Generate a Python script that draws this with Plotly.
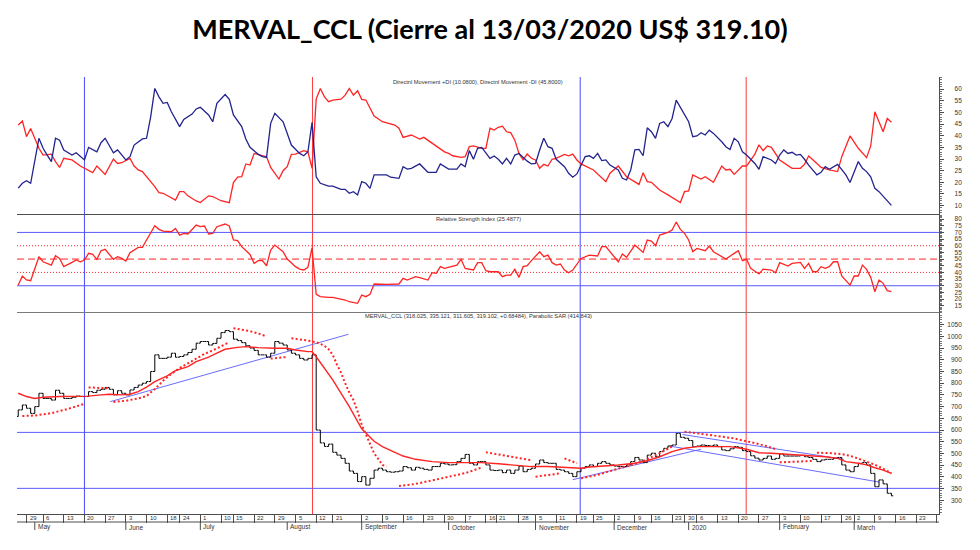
import plotly.graph_objects as go

TITLE = "MERVAL_CCL (Cierre al 13/03/2020 US$ 319.10)"
DI_LABEL = "Directnl Movement +DI (10.0800), Directnl Movement -DI (45.8000)"
RSI_LABEL = "Relative Strength Index (25.4877)"
PRICE_LABEL = "MERVAL_CCL (318.025, 335.121, 311.605, 319.102, +0.68484), Parabolic SAR (414.843)"

# daily closes, trading-day index 0..211 (25-Apr-2019 .. 13-Mar-2020)
FIRST_OPEN = 658
CLOSE = [
    686, 707, 693, 671, 700, 757, 735, 735, 728, 770,
    757, 735, 735, 740, 745, 743, 743, 764, 760, 770,
    774, 782, 774, 750, 768, 757, 750, 771, 782, 792,
    800, 807, 850, 921, 906, 906, 911, 928, 911, 914,
    921, 931, 945, 971, 978, 978, 963, 970, 992, 1016,
    1025, 1020, 988, 982, 973, 960, 950, 940, 921, 921,
    911, 928, 978, 971, 963, 942, 928, 921, 906, 899,
    906, 921, 600, 545, 530, 540, 505, 493, 479, 458,
    425, 415, 380, 401, 365, 394, 429, 437, 429, 422,
    420, 422, 425, 444, 439, 429, 441, 437, 432, 429,
    444, 444, 458, 455, 451, 452, 465, 479, 496, 458,
    451, 465, 465, 451, 429, 427, 429, 418, 429, 415,
    429, 446, 422, 432, 437, 455, 472, 461, 458, 458,
    432, 429, 422, 415, 401, 422, 437, 444, 451, 444,
    458, 465, 458, 451, 446, 444, 444, 451, 465, 483,
    472, 461, 493, 501, 486, 508, 522, 532, 536, 586,
    569, 565, 555, 529, 532, 536, 534, 532, 536, 529,
    515, 512, 520, 529, 526, 512, 508, 490, 480, 472,
    479, 489, 475, 479, 498, 489, 489, 489, 489, 492,
    486, 483, 475, 465, 472, 475, 475, 480, 483, 451,
    429, 422, 444, 458, 461, 451, 415, 358, 387, 370,
    330, 319.1,
]

PLUS_DI = [(0,17.5),(1,19.6),(2,20.7),(3,19.6),(5,38.9),(6,34.6),(7,31.7),(8,28.9),(9,38.9),(10,38.1),
    (11,33.9),(13,31.7),(14,32.7),(16,29.6),(17,35.0),(19,33.1),(20,37.0),(21,38.9),(23,32.7),(24,33.9),
    (26,29.6),(27,31.0),(28,36.0),(30,38.6),(31,38.9),(32,48.1),(33,60.3),(34,56.7),(35,53.9),(36,54.3),
    (37,50.3),(39,43.9),(40,47.0),(42,49.3),(43,51.5),(44,52.2),(46,48.9),(47,46.0),(48,53.9),(50,57.7),
    (51,55.6),(52,48.9),(54,43.9),(55,38.6),(56,35.0),(58,32.0),(59,31.0),(60,30.7),(61,45.3),(62,49.6),
    (64,46.0),(65,41.0),(66,36.0),(68,32.4),(69,31.4),(70,33.1),(71,45.7),(72,22.4),(73,19.6),(75,18.4),
    (76,18.4),(78,17.0),(79,17.0),(80,15.3),(81,16.0),(82,14.6),(83,20.3),(84,19.6),(85,17.4),(86,23.2),
    (89,23.2),(90,22.2),(92,21.7),(93,26.7),(94,25.7),(95,26.0),(97,27.9),(99,24.3),(101,24.3),(102,27.9),
    (104,25.7),(106,25.7),(107,27.9),(108,26.7),(109,33.6),(110,29.9),(111,34.6),(112,35.0),(114,30.3),(115,31.3),
    (116,29.9),(117,27.9),(118,30.3),(119,27.9),(120,31.7),(121,32.4),(123,29.1),(124,27.9),(125,28.1),(126,33.9),
    (127,38.9),(128,35.3),(129,34.6),(130,29.9),(132,26.7),(133,23.9),(134,22.2),(135,23.6),(136,27.4),(137,31.0),
    (138,31.4),(139,30.3),(140,32.4),(141,29.3),(142,29.6),(143,27.4),(145,25.3),(146,21.7),(147,21.0),(148,25.3),
    (149,33.9),(150,34.1),(151,31.4),(152,43.4),(153,41.7),(154,38.9),(155,45.3),(156,46.0),(157,43.9),(158,47.4),
    (159,55.3),(160,52.4),(162,46.0),(163,39.6),(164,39.9),(165,41.3),(166,40.3),(167,42.4),(168,41.0),(170,37.4),
    (171,35.3),(172,34.1),(173,38.9),(174,37.4),(175,33.1),(176,31.7),(178,28.1),(179,25.6),(180,31.0),(182,29.6),
    (183,28.1),(184,31.7),(185,33.9),(186,32.4),(187,32.9),(188,31.7),(189,32.0),(190,29.9),(191,27.4),(193,23.2),
    (194,24.3),(195,26.7),(196,25.6),(198,27.7),(200,23.2),(201,19.9),(203,28.9),(204,26.0),(205,24.6),(206,22.4),
    (207,17.4),(208,16.0),(209,13.9),(210,12.0),(211,10.1)]

MINUS_DI = [(0,44.6),(1,46.3),(2,39.6),(3,43.1),(5,34.6),(6,31.7),(8,32.1),(9,28.9),(10,26.4),(11,30.3),
    (13,29.6),(15,27.0),(18,24.2),(19,27.0),(21,23.4),(23,30.0),(24,28.1),(25,28.4),(27,30.3),(28,27.0),
    (29,25.3),(30,24.6),(33,18.2),(34,15.6),(35,15.3),(38,12.4),(39,16.0),(40,16.0),(41,14.2),(43,12.0),
    (44,11.3),(46,14.2),(47,13.9),(49,12.1),(51,11.3),(52,19.9),(53,22.2),(54,22.4),(55,27.9),(56,27.4),
    (57,32.4),(58,32.0),(60,31.0),(61,26.4),(62,23.9),(63,21.4),(64,25.0),(65,26.7),(66,32.0),(67,32.1),
    (69,33.6),(70,33.1),(71,26.0),(72,55.7),(73,60.3),(74,56.7),(75,54.6),(76,55.3),(78,55.7),(79,57.4),
    (80,60.3),(81,57.4),(82,59.3),(83,55.6),(84,55.3),(86,48.4),(88,46.0),(91,44.6),(92,43.2),(93,39.3),
    (95,40.3),(97,38.6),(98,39.3),(100,36.7),(103,33.1),(104,32.4),(105,31.4),(107,30.7),(108,31.0),(109,35.3),
    (110,35.6),(112,34.6),(113,34.6),(114,43.2),(115,42.4),(116,43.6),(117,44.1),(118,41.7),(119,41.3),(120,38.1),
    (121,32.4),(122,29.6),(123,32.1),(124,30.3),(125,29.6),(126,26.0),(127,27.7),(128,27.0),(129,29.9),(130,30.3),
    (132,32.0),(133,31.4),(134,32.1),(135,29.6),(136,27.9),(139,25.3),(142,20.3),(143,23.9),(145,27.0),(147,22.4),
    (150,19.1),(151,24.1),(152,20.3),(153,20.0),(155,16.7),(157,14.6),(160,11.3),(161,16.0),(162,16.3),(163,23.2),
    (165,21.4),(166,22.4),(168,20.0),(170,27.0),(171,25.3),(172,25.6),(173,23.4),(175,27.0),(176,27.0),(178,32.1),
    (179,36.1),(180,33.6),(181,35.6),(182,35.0),(184,29.6),(187,26.0),(189,26.0),(190,27.7),(191,31.3),(193,28.1),
    (194,26.4),(196,25.3),(198,24.6),(199,31.0),(201,39.9),(203,34.6),(205,30.6),(206,35.6),(207,50.3),(208,46.0),
    (209,41.7),(210,47.4),(211,45.8)]

RSI = [(0,30.5),(1,37.3),(2,34.3),(3,33.8),(5,51.8),(6,48.0),(8,45.5),(9,52.5),(10,50.5),(11,44.3),
    (13,47.5),(14,49.3),(15,48.0),(16,49.3),(17,54.3),(18,53.5),(19,49.8),(20,56.3),(21,57.3),(23,49.8),
    (24,51.8),(25,50.5),(26,48.5),(27,54.8),(29,58.8),(30,58.8),(31,64.3),(33,75.0),(34,72.3),(35,71.0),
    (37,70.5),(38,73.0),(39,68.0),(40,69.3),(41,68.8),(43,75.5),(44,74.3),(45,74.8),(46,68.8),(47,69.3),
    (48,74.3),(50,76.3),(51,74.8),(52,64.3),(53,63.8),(54,59.3),(56,53.5),(57,46.8),(58,48.8),(59,48.8),
    (60,45.0),(61,56.8),(62,60.5),(64,55.5),(65,50.0),(67,44.3),(68,42.5),(69,41.8),(70,43.8),(71,58.5),
    (72,23.5),(73,21.8),(75,21.3),(76,21.3),(79,19.3),(80,18.0),(82,16.8),(83,23.0),(84,21.8),(85,23.5),
    (86,31.3),(87,31.1),(89,31.1),(92,31.3),(93,35.5),(94,34.3),(96,36.8),(97,36.0),(99,34.3),(100,39.8),
    (101,39.3),(102,44.3),(103,43.0),(106,45.5),(107,49.8),(108,43.0),(110,41.8),(111,47.3),(112,47.3),(113,41.3),
    (114,40.5),(116,40.5),(117,36.8),(118,38.0),(119,38.0),(120,42.3),(121,36.3),(122,44.3),(123,45.0),(124,48.8),
    (126,55.5),(127,51.8),(128,53.0),(129,47.3),(130,45.5),(131,46.3),(132,41.8),(133,39.8),(134,41.8),(136,50.5),
    (137,51.8),(138,53.0),(140,52.3),(141,59.3),(142,59.3),(143,55.5),(145,48.0),(146,53.8),(147,51.3),(149,60.5),
    (150,58.0),(151,55.0),(152,64.3),(153,63.5),(154,60.0),(155,68.0),(157,70.0),(158,71.8),(159,77.8),(160,72.3),
    (161,69.3),(162,64.3),(163,55.5),(164,58.0),(166,56.3),(167,59.8),(168,55.5),(170,51.8),(171,50.0),(173,54.3),
    (174,56.3),(175,48.8),(176,49.8),(177,43.0),(179,38.8),(180,42.5),(182,41.8),(183,39.8),(184,47.3),(186,44.8),
    (187,46.8),(189,47.5),(190,43.0),(191,46.8),(192,40.5),(193,40.5),(194,44.3),(195,43.0),(196,44.3),(197,48.0),
    (198,48.0),(199,37.3),(201,30.5),(202,37.3),(203,37.3),(204,45.5),(205,42.3),(206,36.3),(207,25.5),(208,34.3),
    (209,31.8),(210,26.3),(211,25.5)]

SMA = [(0,757),(2,743),(4,735),(6,740),(10,743),(14,743),(17,745),(20,750),(22,753),(25,750),(27,753),
    (29,764),(31,783),(33,807),(36,831),(38,854),(41,871),(43,892),(46,911),(48,928),(50,945),(53,953),
    (55,956),(58,952),(60,949),(62,949),(65,949),(67,942),(70,935),(71,935),(72,913),(76,814),(80,700),
    (83,605),(86,552),(88,529),(91,505),(93,489),(96,475),(100,465),(104,461),(108,461),(112,461),(116,456),
    (120,451),(124,444),(128,444),(132,441),(136,437),(138,442),(142,446),(145,451),(149,458),(152,469),
    (155,486),(158,508),(161,522),(164,529),(168,529),(172,529),(176,518),(179,503),(182,501),(186,496),
    (189,493),(192,489),(195,486),(198,479),(200,465),(203,458),(205,451),(207,439),(209,429),(211,415)]

SAR_SEGMENTS = [
    [(1,660),(4,662),(8,672),(12,690),(16,712)],
    [(17,782),(20,780),(22,778)],
    [(23,720),(26,725),(29,735),(31,745),(33,775),(35,810),(37,840),(39,865),(41,885),(43,905),(45,925),(47,940),(49,958),(51,975)],
    [(52,1035),(54,1030),(56,1022),(58,1012),(60,1000)],
    [(61,905),(63,908),(65,912)],
    [(66,992),(68,988),(70,982),(72,975),(74,960),(75,945),(76,921),(77,880),(78,845),(79,800),(80,760),(81,728),
     (82,680),(83,622),(84,580),(85,536),(86,501),(88,451),(89,444)],
    [(92,361),(96,370),(100,385),(104,400),(108,416),(112,440)],
    [(113,505),(115,499),(117,492),(119,486),(121,480),(123,474),(124,471)],
    [(125,401),(127,404),(129,410),(131,415)],
    [(132,479),(134,463),(135,458)],
    [(136,394),(138,400),(140,408),(143,425),(146,440),(149,455),(152,475),(155,500),(157,520),(158,530)],
    [(161,593),(164,587),(167,580),(170,572),(173,564),(176,553),(179,540),(182,525),(183,518)],
    [(184,462),(187,464),(190,466),(192,468)],
    [(193,503),(196,502),(199,497),(201,490),(203,478),(205,466),(207,452),(209,435),(211,415)],
]

TRENDLINES = [(22.2, 721, 79.8, 1009), (134, 388, 165, 518), (160.5, 581, 199.5, 475), (157.3, 532, 208, 378)]
PRICE_LEVELS = [590, 351]
EVENT_LINES = [(16, "#4b4bff"), (71.1, "#ff3b3b"), (135.8, "#4b4bff"), (175.9, "#ff3b3b")]

DAY_TICKS = [2, 6, 11, 16, 21, 26, 31, 36, 39, 44, 49, 52, 57, 62, 67, 72, 76, 83, 88, 93, 98, 103, 108, 113,
             115.5, 121, 125, 130, 135, 139, 144, 149, 153, 158, 161, 164, 169, 174, 179, 184, 189, 194, 199,
             202, 207, 212, 217, 222]
DAY_LABELS = ["29", "6", "13", "20", "27", "3", "10", "18", "24", "1", "10", "15", "22", "29", "5", "12", "21",
              "2", "9", "16", "23", "30", "7", "16", "21", "28", "5", "11", "19", "25", "2", "9", "16", "23",
              "30", "6", "13", "20", "27", "3", "10", "17", "26", "2", "9", "16", "23", ""]
MONTH_TICKS = [4, 26, 44, 65, 83, 104, 125, 144, 162, 184, 202]
MONTH_LABELS = ["May", "June", "July", "August", "September", "October", "November", "December", "2020",
                "February", "March"]

DI_TICKS = list(range(10, 61, 5))
RSI_TICKS = list(range(15, 81, 5))
PRICE_TICKS = list(range(300, 1051, 50))

# ---------------------------------------------------------------
XR = [-0.3, 222.5]
D_PRICE = [0.01798, 0.4719]
D_RSI = [0.4719, 0.6921]
D_DI = [0.6921, 1.0]
AX = "#4d4d4d"
TXT = "#333333"
RED = "#ff2424"

IDX = list(range(len(CLOSE)))
OPEN = [FIRST_OPEN] + CLOSE[:-1]
HIGH = [max(o, c) for o, c in zip(OPEN, CLOSE)]
LOW = [min(o, c) for o, c in zip(OPEN, CLOSE)]

def split(pairs):
    return [p[0] for p in pairs], [p[1] for p in pairs]

sar_x, sar_y = [], []
for seg in SAR_SEGMENTS:
    sx, sy = split(seg)
    sar_x += sx + [None]
    sar_y += sy + [None]

fig = go.Figure()
px_, py_ = split(PLUS_DI)
mx_, my_ = split(MINUS_DI)
rx_, ry_ = split(RSI)
ax_, ay_ = split(SMA)

fig.add_trace(go.Scatter(x=mx_, y=my_, mode="lines", line=dict(color=RED, width=1.3), xaxis="x", yaxis="y"))
fig.add_trace(go.Scatter(x=px_, y=py_, mode="lines", line=dict(color="#23238f", width=1.3), xaxis="x", yaxis="y"))
fig.add_trace(go.Scatter(x=rx_, y=ry_, mode="lines", line=dict(color=RED, width=1.3), xaxis="x2", yaxis="y2"))
fig.add_trace(go.Ohlc(x=IDX, open=OPEN, high=HIGH, low=LOW, close=CLOSE, xaxis="x3", yaxis="y3",
                      tickwidth=0.45, hoverinfo="skip",
                      increasing=dict(line=dict(color="black", width=1)),
                      decreasing=dict(line=dict(color="black", width=1))))
fig.add_trace(go.Scatter(x=ax_, y=ay_, mode="lines", line=dict(color=RED, width=1.4), xaxis="x3", yaxis="y3"))
fig.add_trace(go.Scatter(x=sar_x, y=sar_y, mode="lines", connectgaps=False,
                         line=dict(color=RED, width=2, dash="2px,2.3px"), xaxis="x3", yaxis="y3"))

shapes = []
for xv, col in EVENT_LINES:
    shapes.append(dict(type="line", xref="x3", yref="paper", x0=xv, x1=xv, y0=D_PRICE[0], y1=1,
                       line=dict(color=col, width=1), layer="below"))
for lv in PRICE_LEVELS:
    shapes.append(dict(type="line", xref="paper", yref="y3", x0=0, x1=1, y0=lv, y1=lv,
                       line=dict(color="#5a5aff", width=1), layer="below"))
for x0, y0, x1, y1 in TRENDLINES:
    shapes.append(dict(type="line", xref="x3", yref="y3", x0=x0, y0=y0, x1=x1, y1=y1,
                       line=dict(color="#6b6bff", width=1), layer="below"))
for lv, col, dash in [(70, "#5a5aff", "solid"), (30, "#5a5aff", "solid"), (60, RED, "1px,2px"),
                      (40, RED, "1px,2px"), (50, RED, "7px,4px")]:
    shapes.append(dict(type="line", xref="paper", yref="y2", x0=0, x1=1, y0=lv, y1=lv,
                       line=dict(color=col, width=1, dash=dash), layer="below"))
# bottom of the day-label strip and month separators
shapes.append(dict(type="line", xref="paper", yref="paper", x0=0, x1=1, y0=0, y1=0, line=dict(color=AX, width=1)))
for mt in MONTH_TICKS:
    shapes.append(dict(type="line", xref="x3", yref="paper", x0=mt, x1=mt, y0=-0.018, y1=0,
                       line=dict(color=AX, width=1)))

ann = []
for t, lab in zip(DAY_TICKS, DAY_LABELS):
    ann.append(dict(x=t, xref="x3", y=0.0085, yref="paper", text=lab, showarrow=False, xanchor="left",
                    yanchor="middle", xshift=1, font=dict(size=6, color=TXT, family="Liberation Sans")))
for t, lab in zip(MONTH_TICKS, MONTH_LABELS):
    ann.append(dict(x=t, xref="x3", y=-0.0115, yref="paper", text=lab, showarrow=False, xanchor="left",
                    yanchor="middle", xshift=1, font=dict(size=6.5, color=TXT, family="Liberation Sans")))
for txt, yy in [(DI_LABEL, 0.9888), (RSI_LABEL, 0.681), (PRICE_LABEL, 0.4629)]:
    ann.append(dict(x=0.5, xref="paper", y=yy, yref="paper", text=txt, showarrow=False, xanchor="center",
                    yanchor="middle", font=dict(size=5.7, color=TXT, family="Liberation Sans")))

def yax(dom, rng, ticks, anchor, minor_dt):
    return dict(domain=dom, range=rng, anchor=anchor, side="right", tickvals=ticks,
                ticktext=[f"{v:>4}".replace(" ", "\u2007") for v in ticks],
                ticks="outside", ticklen=4, tickcolor=AX, tickfont=dict(size=6.5, color=TXT, family="Liberation Sans"),
                showline=True, linecolor=AX, linewidth=1, showgrid=False, zeroline=False, ticklabelstandoff=2,
                minor=dict(ticks="outside", ticklen=2, dtick=minor_dt, tickcolor="#777777"), fixedrange=True)

def xax(anchor, color, **kw):
    d = dict(domain=[0, 1], range=XR, anchor=anchor, showline=True, linecolor=color, linewidth=1,
             showgrid=False, zeroline=False, showticklabels=False, ticks="")
    d.update(kw)
    return d

fig.update_layout(
    width=980, height=550, autosize=False,
    margin=dict(l=17, r=41, t=77, b=28),
    paper_bgcolor="white", plot_bgcolor="white", showlegend=False,
    title=dict(text=f"<b>{TITLE}</b>", x=0.5, xref="container", xanchor="center", y=1 - 30 / 550,
               yref="container", yanchor="middle", font=dict(family="Lato", size=27, color="black")),
    xaxis=xax("y", AX),
    xaxis2=xax("y2", "#7a7a7a"),
    xaxis3=xax("y3", AX, ticks="outside", ticklen=8, tickcolor=AX, tickvals=DAY_TICKS,
               rangeslider=dict(visible=False)),
    yaxis=yax(D_DI, [6.4, 65.2], DI_TICKS, "x", 1),
    yaxis2=yax(D_RSI, [10.3, 83.8], RSI_TICKS, "x2", 1),
    yaxis3=yax(D_PRICE, [241.5, 1104], PRICE_TICKS, "x3", 10),
    shapes=shapes,
    annotations=ann,
)

fig.write_html("out.html")
